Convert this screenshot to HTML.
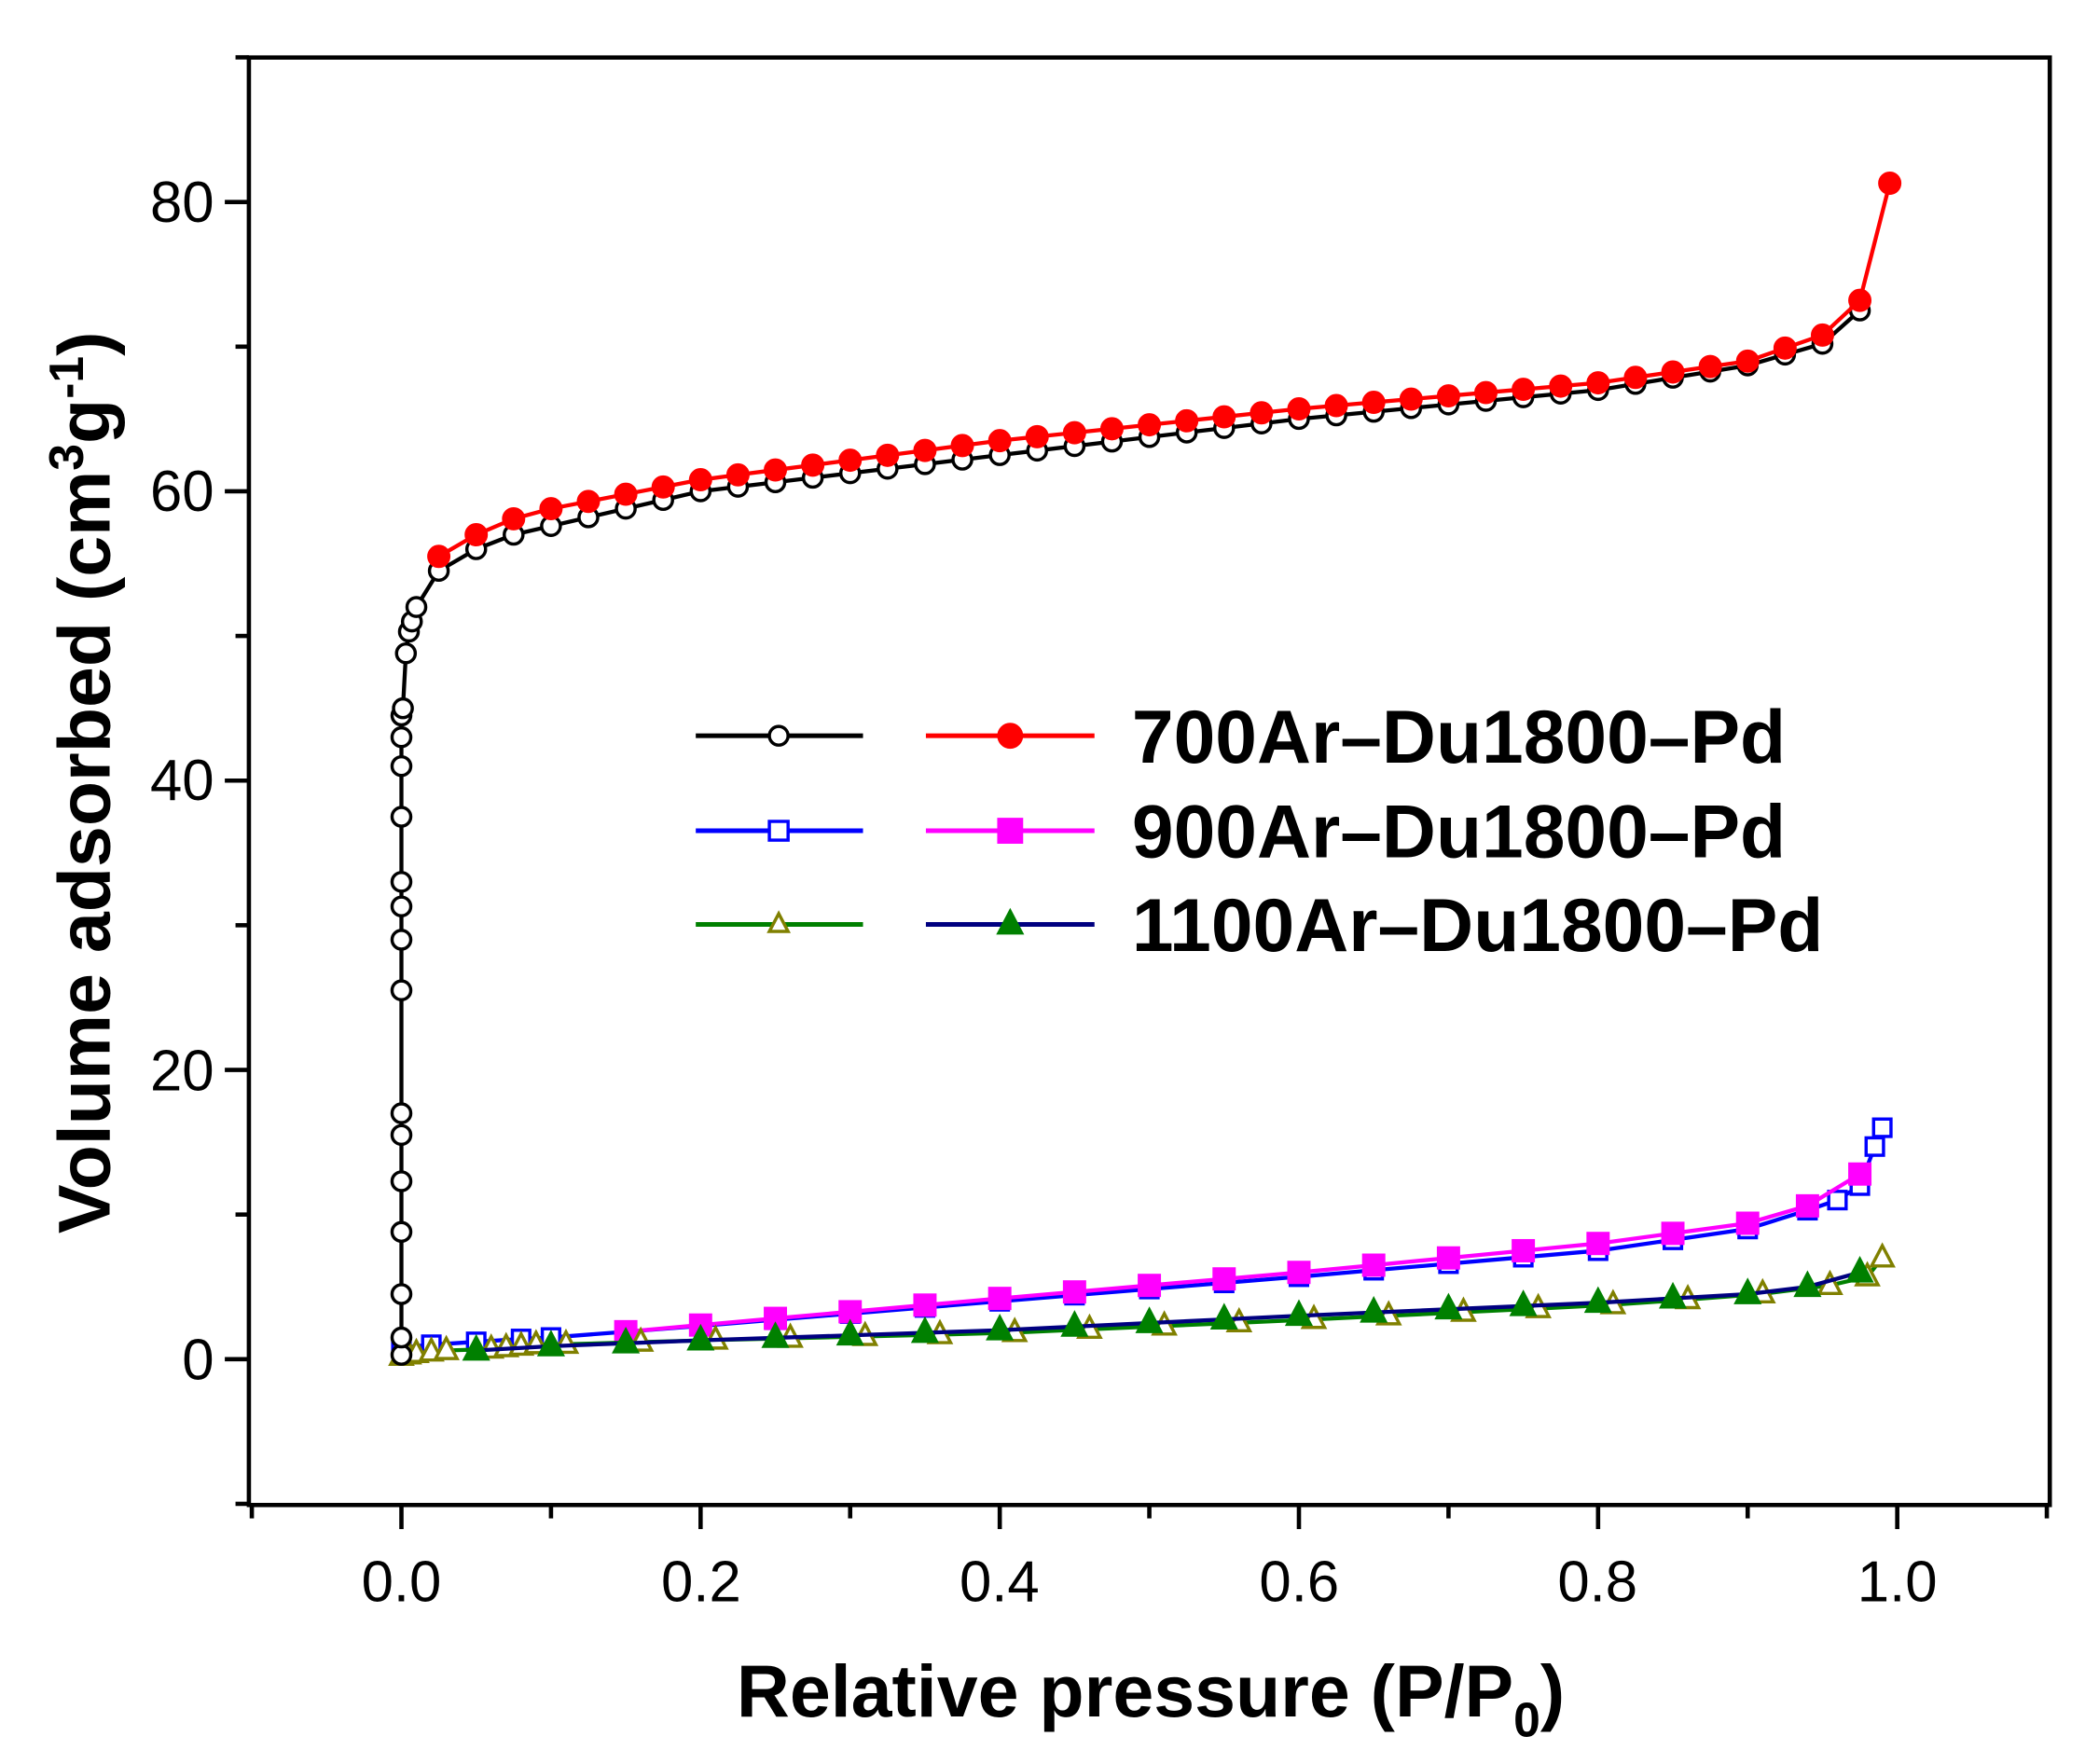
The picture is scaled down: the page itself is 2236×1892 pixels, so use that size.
<!DOCTYPE html>
<html><head><meta charset="utf-8"><style>html,body{margin:0;padding:0;background:#fff}svg{display:block}</style></head>
<body>
<svg id="s" xmlns="http://www.w3.org/2000/svg" width="2236" height="1892" viewBox="0 0 1558.3 1318.6" font-family="Liberation Sans, Arial, sans-serif">
<rect width="1558.3" height="1318.6" fill="#fff"/>
<g id="data"></g>
<rect x="186" y="43" width="1346" height="1082" fill="none" stroke="#000" stroke-width="3.2"/>
<g id="ticks" stroke="#000" stroke-width="3.2"></g>
<g font-size="43" fill="#000" text-anchor="end">
<text x="160" y="166">80</text><text x="160" y="382">60</text><text x="160" y="598">40</text><text x="160" y="815">20</text><text x="160" y="1031">0</text>
</g>
<g font-size="43" fill="#000" text-anchor="middle">
<text x="300" y="1197">0.0</text><text x="524" y="1197">0.2</text><text x="747" y="1197">0.4</text><text x="971" y="1197">0.6</text><text x="1194" y="1197">0.8</text><text x="1418" y="1197">1.0</text>
</g>
<text x="860" y="1283" font-size="55" font-weight="bold" text-anchor="middle">Relative pressure (P/P<tspan font-size="36" dy="15">0</tspan><tspan dy="-15">)</tspan></text>
<text transform="translate(82,585) rotate(-90)" font-size="55" font-weight="bold" text-anchor="middle">Volume adsorbed (cm<tspan font-size="36" dy="-20">3</tspan><tspan dy="20">g</tspan><tspan font-size="36" dy="-20">-1</tspan><tspan dy="20">)</tspan></text>
<g id="legend"></g>
<g font-size="56" font-weight="bold" fill="#000">
<text x="846" y="570">700Ar–Du1800–Pd</text>
<text x="846" y="641">900Ar–Du1800–Pd</text>
<text x="846" y="711">1100Ar–Du1800–Pd</text>
</g>
</svg>
<script>
const NS="http://www.w3.org/2000/svg";
const X=x=>300+1118*x, Y=y=>1016-10.8125*y;
function el(p,t,a){const e=document.createElementNS(NS,t);for(const k in a)e.setAttribute(k,a[k]);p.appendChild(e);return e;}
const T=document.getElementById('ticks');
for(let i=-1;i<=11;i++){const x=X(i/10);const maj=(i%2==0);el(T,'line',{x1:x,y1:1125,x2:x,y2:1125+(maj?18:10)});}
for(let v=-10;v<=90;v+=10){const y=Y(v);const maj=(v%20==0);el(T,'line',{x1:186,y1:y,x2:186-(maj?18:10),y2:y});}
function interp(pts,x){for(let i=0;i<pts.length-1;i++){if(x<=pts[i+1][0]){const[a,b]=pts[i],[c,d]=pts[i+1];return b+(d-b)*(x-a)/(c-a);}}return pts[pts.length-1][1];}
function range(a,b,s){const r=[];for(let x=a;x<=b+1e-9;x+=s)r.push(+x.toFixed(4));return r;}
const D=document.getElementById('data');
function marker(g,type,x,y,fill,stroke,s){
  if(type=='c')el(g,'circle',{cx:x,cy:y,r:s,fill:fill,stroke:stroke,'stroke-width':2.4});
  else if(type=='s')el(g,'rect',{x:x-s,y:y-s,width:2*s,height:2*s,fill:fill,stroke:stroke,'stroke-width':2.4});
  else el(g,'polygon',{points:`${x},${y-s*1.15} ${x-s},${y+s*0.75} ${x+s},${y+s*0.75}`,fill:fill,stroke:stroke,'stroke-width':2.4});
}
function series(pts,line,type,fill,stroke,s){
  const g=el(D,'g',{});
  el(g,'polyline',{points:pts.map(p=>X(p[0])+','+Y(p[1])).join(' '),fill:'none',stroke:line,'stroke-width':3});
  pts.forEach(p=>marker(g,type,X(p[0]),Y(p[1]),fill,stroke,s));
}
const a7=[[0,0.5],[0.025,54.5],[0.05,56],[0.075,57],[0.1,57.6],[0.2,60],[0.4,62.5],[0.6,65],[0.8,67],[0.9,68.7],[0.95,70.2],[0.975,72.5]];
let p700=[[0,0.3],[0,1.5],[0,4.5],[0,8.8],[0,12.3],[0,15.5],[0,17],[0,25.5],[0,29],[0,31.3],[0,33],[0,37.5],[0,41],[0,43],[0,44.5],[0.001,45],[0.003,48.8],[0.005,50.3],[0.007,51],[0.01,52]];
range(0.025,0.975,0.025).forEach(x=>p700.push([x,interp(a7,x)]));
const d7=[[0.025,55.5],[0.05,57],[0.075,58.1],[0.1,58.8],[0.2,60.8],[0.4,63.5],[0.6,65.7],[0.8,67.5],[0.9,69],[0.95,70.8],[0.975,73.2],[0.995,81.3]];
let r700=range(0.025,0.95,0.025).map(x=>[x,interp(d7,x)]);r700.push([0.975,73.2],[0.995,81.3]);
const a9=[[0,1],[0.1,1.5],[0.2,2.3],[0.4,4],[0.6,5.7],[0.8,7.5],[0.9,9],[0.95,10.5],[0.96,11],[0.975,12],[0.985,14.7],[0.99,16]];
let b900=[[0,0.8],[0.02,1],[0.05,1.2],[0.08,1.4]];range(0.1,0.9,0.05).forEach(x=>b900.push([x,interp(a9,x)]));b900.push([0.94,10.3],[0.96,11],[0.975,12],[0.985,14.7],[0.99,16]);
const d9=[[0.15,1.9],[0.4,4.2],[0.6,6],[0.8,8],[0.9,9.4],[0.94,10.6],[0.975,12.8]];
let m900=range(0.15,0.9,0.05).map(x=>[x,interp(d9,x)]);m900.push([0.94,10.6],[0.975,12.8]);
const a11=[[0,0.2],[0.1,1],[0.2,1.3],[0.4,1.8],[0.6,2.7],[0.8,3.7],[0.9,4.4],[0.95,5],[0.99,7]];
let t11=[[0,0.2],[0.005,0.3],[0.01,0.4],[0.02,0.5],[0.03,0.6],[0.06,0.7],[0.07,0.8],[0.08,0.9],[0.09,1]];range(0.11,0.91,0.05).forEach(x=>t11.push([x,interp(a11,x)]));t11.push([0.955,5.1],[0.98,5.7],[0.99,7]);
const d11=[[0.05,0.6],[0.1,0.9],[0.2,1.3],[0.4,2],[0.6,3],[0.8,3.9],[0.9,4.5],[0.94,5],[0.975,6]];
let f11=range(0.05,0.9,0.05).map(x=>[x,interp(d11,x)]);f11.push([0.94,5],[0.975,6]);
series(b900,'#0000ff','s','#fff','#0000ff',6.5);
series(m900,'#ff00ff','s','#ff00ff','#ff00ff',7.5);
series(t11,'#008000','t','#fff','#808000',8);
series(f11,'#000080','t','#008000','#008000',8.5);
series(p700,'#000','c','#fff','#000',7);
series(r700,'#ff0000','c','#ff0000','#ff0000',7.5);
const L=document.getElementById('legend');
[[550,'#000','c','#fff','#000','#ff0000','c','#ff0000','#ff0000'],[621,'#0000ff','s','#fff','#0000ff','#ff00ff','s','#ff00ff','#ff00ff'],[691,'#008000','t','#fff','#808000','#000080','t','#008000','#008000']].forEach(r=>{
  const y=r[0];
  el(L,'line',{x1:520,y1:y,x2:645,y2:y,stroke:r[1],'stroke-width':3.5});marker(L,r[2],582,y,r[3],r[4],7);
  el(L,'line',{x1:692,y1:y,x2:818,y2:y,stroke:r[5],'stroke-width':3.5});marker(L,r[6],755,y,r[7],r[8],8.5);
});
</script>
</body></html>
